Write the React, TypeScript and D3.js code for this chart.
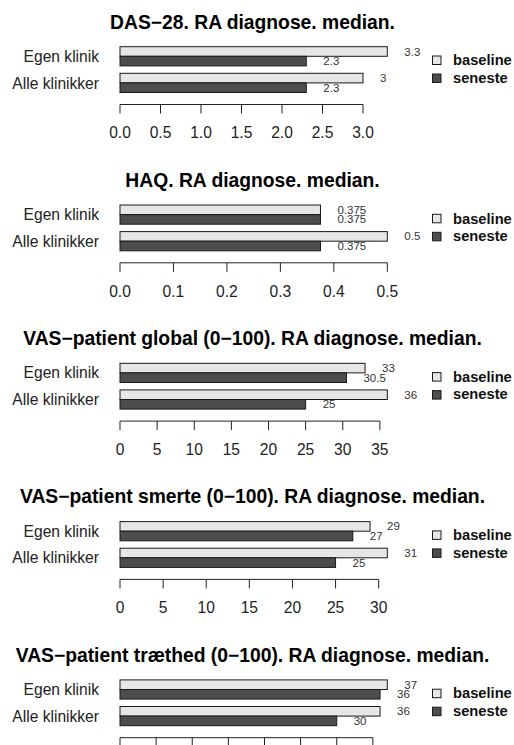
import React from "react";
import * as d3 from "d3";

const categories = ["Egen klinik", "Alle klinikker"];
const seriesNames = ["baseline", "seneste"];
const titles = [
  "DAS\u221228. RA diagnose. median.",
  "HAQ. RA diagnose. median.",
  "VAS\u2212patient global (0\u2212100). RA diagnose. median.",
  "VAS\u2212patient smerte (0\u2212100). RA diagnose. median.",
  "VAS\u2212patient træthed (0\u2212100). RA diagnose. median.",
];
const baselineValues = [
  [3.3, 3],
  [0.375, 0.5],
  [33, 36],
  [29, 31],
  [37, 36],
];
const senesteValues = [
  [2.3, 2.3],
  [0.375, 0.375],
  [30.5, 25],
  [27, 25],
  [36, 30],
];

const W = 514;
const H = 745;
const PANEL_H = 158.3;
const X0 = 120;
const X1 = 387.3;
const FONT = "'Liberation Sans', Arial, Helvetica, sans-serif";
const fills = ["#e6e6e6", "#4d4d4d"];

function Panel({ index }: { index: number }) {
  const top = index * PANEL_H;
  const b = baselineValues[index];
  const s = senesteValues[index];
  const maxV = d3.max([...b, ...s]) as number;
  const x = d3.scaleLinear().domain([0, maxV]).range([X0, X1]);
  const ticks = x.ticks(6);
  const fmt = x.tickFormat(6);
  const groupY = d3.scaleOrdinal<string, number>().domain(categories).range([46.7, 73.3]);
  const barH = 9.6;
  const series = [b, s];
  const showTickLabels = top + 130 < H;
  return (
    <g transform={`translate(0,${top})`}>
      <text x={252.5} y={28.5} textAnchor="middle" fontFamily={FONT} fontWeight="bold" fontSize={19.3} fill="#000">
        {titles[index]}
      </text>
      {categories.map((c, ci) => {
        const gy = groupY(c);
        return (
          <g key={c}>
            <text x={99} y={gy + barH + 5.6} textAnchor="end" fontFamily={FONT} fontSize={15.6} fill="#222">
              {c}
            </text>
            {series.map((vals, si) => {
              const v = vals[ci];
              const y = gy + si * barH;
              return (
                <g key={si}>
                  <rect x={x(0)} y={y} width={x(v) - x(0)} height={barH} fill={fills[si]} stroke="#1a1a1a" strokeWidth={1} />
                  <text x={x(v) + 17} y={y + barH / 2 + 4} fontFamily={FONT} fontSize={11.5} fill="#333">
                    {String(v)}
                  </text>
                </g>
              );
            })}
          </g>
        );
      })}
      <line x1={x(0)} x2={x(ticks[ticks.length - 1])} y1={104.5} y2={104.5} stroke="#222" strokeWidth={1} />
      {ticks.map((t) => (
        <g key={t}>
          <line x1={x(t)} x2={x(t)} y1={104.5} y2={113.5} stroke="#222" strokeWidth={1} />
          {showTickLabels && (
            <text x={x(t)} y={138.3} textAnchor="middle" fontFamily={FONT} fontSize={15.6} fill="#222">
              {fmt(t)}
            </text>
          )}
        </g>
      ))}
      {seriesNames.map((n, i) => (
        <g key={n}>
          <rect x={432.5} y={56 + i * 18} width={8.5} height={8.5} fill={fills[i]} stroke="#1a1a1a" strokeWidth={1} />
          <text x={453} y={65.3 + i * 17.5} fontFamily={FONT} fontWeight="bold" fontSize={14.7} fill="#111">
            {n}
          </text>
        </g>
      ))}
    </g>
  );
}

export default function App() {
  return (
    <svg
      width={W}
      height={H}
      viewBox={`0 0 ${W} ${H}`}
      style={{ position: "absolute", left: 0, top: 0, background: "#fff" }}
    >
      <rect x={0} y={0} width={W} height={H} fill="#fff" />
      {titles.map((_, i) => (
        <Panel key={i} index={i} />
      ))}
    </svg>
  );
}
